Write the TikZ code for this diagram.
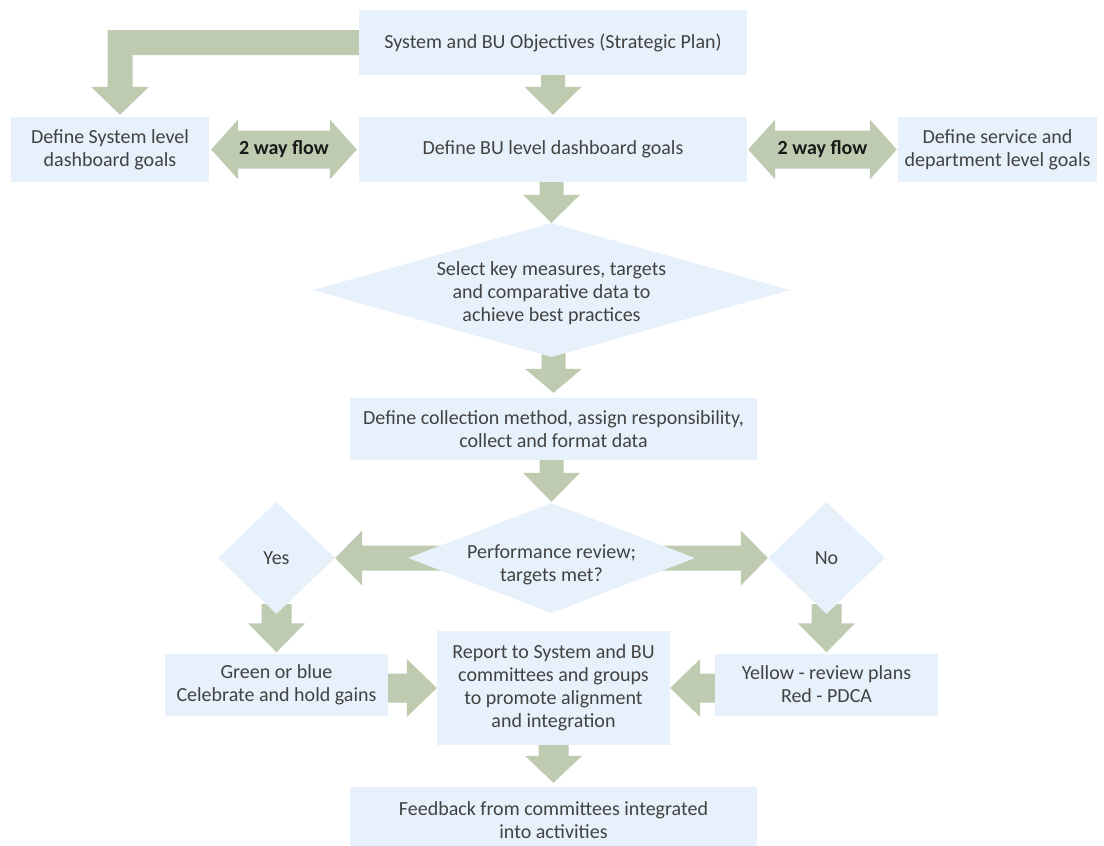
\documentclass[tikz,border=0pt]{standalone}
\usepackage{fontspec}
\setmainfont{Carlito}
\usetikzlibrary{calc,shapes.geometric}
\pgfdeclarelayer{back}
\pgfdeclarelayer{bg}
\pgfsetlayers{back,bg,main}
\definecolor{boxfill}{RGB}{231,241,251}
\definecolor{arrfill}{RGB}{191,203,177}
\definecolor{txt}{RGB}{66,66,66}
\definecolor{txtdark}{RGB}{25,25,25}
% down arrow: #1 start, #2 tip, #3 shaft half, #4 head half, #5 head length
\newcommand\arrD[5]{\begin{pgfonlayer}{bg}\fill[arrfill] let \p1=(#1),\p2=(#2) in
  (\x2-#3,\y1) -- (\x2+#3,\y1) -- (\x2+#3,\y2+#5) -- (\x2+#4,\y2+#5) -- (\x2,\y2)
  -- (\x2-#4,\y2+#5) -- (\x2-#3,\y2+#5) -- cycle;\end{pgfonlayer}}
% right arrow
\newcommand\arrR[5]{\begin{pgfonlayer}{bg}\fill[arrfill] let \p1=(#1),\p2=(#2) in
  (\x1,\y2+#3) -- (\x2-#5,\y2+#3) -- (\x2-#5,\y2+#4) -- (\x2,\y2) -- (\x2-#5,\y2-#4)
  -- (\x2-#5,\y2-#3) -- (\x1,\y2-#3) -- cycle;\end{pgfonlayer}}
% left arrow
\newcommand\arrL[5]{\begin{pgfonlayer}{bg}\fill[arrfill] let \p1=(#1),\p2=(#2) in
  (\x1,\y2+#3) -- (\x2+#5,\y2+#3) -- (\x2+#5,\y2+#4) -- (\x2,\y2) -- (\x2+#5,\y2-#4)
  -- (\x2+#5,\y2-#3) -- (\x1,\y2-#3) -- cycle;\end{pgfonlayer}}
% double-headed horizontal arrow: #1 left tip, #2 right tip
\newcommand\arrLR[5]{\begin{pgfonlayer}{bg}\fill[arrfill] let \p1=(#1),\p2=(#2) in
  (\x1,\y1) -- (\x1+#5,\y1+#4) -- (\x1+#5,\y1+#3) -- (\x2-#5,\y1+#3) -- (\x2-#5,\y1+#4)
  -- (\x2,\y1) -- (\x2-#5,\y1-#4) -- (\x2-#5,\y1-#3) -- (\x1+#5,\y1-#3) -- (\x1+#5,\y1-#4)
  -- cycle;\end{pgfonlayer}}
\tikzset{
  box/.style={rectangle, fill=boxfill, draw=none, text=txt, align=center, inner sep=0pt,
    font=\fontsize{20}{23}\selectfont},
  dia/.style={diamond, fill=boxfill, draw=none, inner sep=0pt},
  dtext/.style={text=txt, align=center, inner sep=0pt, font=\fontsize{20}{23}\selectfont},
  flowlbl/.style={text=txtdark, inner sep=0pt, font=\fontsize{20}{23}\selectfont\bfseries}
}
\begin{document}
\begin{tikzpicture}[x=1pt,y=-1pt]
\useasboundingbox (0,0) rectangle (1104,846);
\begin{pgfonlayer}{back}
\fill[white] (0,0) rectangle (1104,846);
\end{pgfonlayer}
% nodes
\node[box, minimum width=388, minimum height=65] (top) at (553,42.5) {System and BU Objectives (Strategic Plan)};
\node[box, minimum width=388, minimum height=65] (bu) at (553,149.5) {Define BU level dashboard goals};
\node[box, minimum width=198, minimum height=65] (sys) at (110,149.5) {Define System level\\dashboard goals};
\node[box, minimum width=199, minimum height=65] (svc) at (997.5,149.5) {Define service and\\department level goals};
\node[dia, minimum width=477, minimum height=134] (sel) at (551.5,290) {};
\node[dtext] (selt) at ($(sel.center)+(0,3)$) {Select key measures, targets\\and comparative data to\\achieve best practices};
\node[box, minimum width=407, minimum height=62] (coll) at (553.5,429) {Define collection method, assign responsibility,\\collect and format data};
\node[dia, minimum width=287, minimum height=110] (perf) at (551.5,558) {};
\node[dtext] (perft) at ($(perf.center)+(0,7)$) {Performance review;\\targets met?};
\node[dia, minimum width=117, minimum height=112] (yes) at (276.5,558) {};
\node[dtext] (yest) at (yes.center) {Yes};
\node[dia, minimum width=117, minimum height=112] (no) at (826.5,558) {};
\node[dtext] (not) at (no.center) {No};
\node[box, minimum width=223, minimum height=62] (green) at (276.5,684.5) {Green or blue\\Celebrate and hold gains};
\node[box, minimum width=223, minimum height=62] (yellow) at (826.5,684.5) {Yellow - review plans\\Red - PDCA};
\node[box, minimum width=233, minimum height=114] (report) at (553.5,688) {Report to System and BU\\committees and groups\\to promote alignment\\and integration};
\node[box, minimum width=407, minimum height=66] (feed) at (553.5,820) {Feedback from committees integrated\\into activities};
% connectors
\arrD{top.south}{$(bu.north)+(0,-2)$}{12pt}{28.5pt}{28pt}
\arrD{bu.south}{sel.north}{12pt}{28.5pt}{28pt}
\arrD{$(sel.south)+(0,-10)$}{$(coll.north)+(0,-5)$}{12pt}{28.5pt}{24pt}
\arrD{coll.south}{$(perf.north)+(0,-1)$}{12pt}{28.5pt}{29pt}
\arrL{perf.center}{yes.east}{12.5pt}{27.5pt}{27pt}
\arrR{perf.center}{no.west}{12.5pt}{27.5pt}{27pt}
\arrD{$(yes.south)+(0,-10)$}{$(green.north)+(0,-1)$}{15pt}{28.5pt}{29pt}
\arrD{$(no.south)+(0,-10)$}{$(yellow.north)+(0,-1)$}{15pt}{28.5pt}{29pt}
\arrR{green.east}{report.west}{14.5pt}{29pt}{30pt}
\arrL{yellow.west}{report.east}{14.5pt}{29pt}{30pt}
\arrD{report.south}{$(feed.north)+(0,-4)$}{15pt}{28.5pt}{27pt}
\arrLR{$(sys.east)+(2,0)$}{$(bu.west)+(-2,0)$}{19pt}{30pt}{27pt}
\arrLR{$(bu.east)+(1,0)$}{$(svc.west)+(-1,0)$}{19pt}{30pt}{27pt}
\begin{pgfonlayer}{bg}
\fill[arrfill] let \p1=(top.west), \p2=($(sys.north)+(10,-2)$) in
  (\x1,\y1+12.5pt) -- (\x2-12.5pt,\y1+12.5pt) -- (\x2-12.5pt,\y2+28pt) -- (\x2-29pt,\y2+28pt)
  -- (\x2,\y2) -- (\x2+29pt,\y2+28pt) -- (\x2+12.5pt,\y2+28pt) -- (\x2+12.5pt,\y1-12.5pt)
  -- (\x1,\y1-12.5pt) -- cycle;
\end{pgfonlayer}
\node[flowlbl] (f1) at ($(sys.east)!0.5!(bu.west)$) {2 way flow};
\node[flowlbl] (f2) at ($(bu.east)!0.5!(svc.west)$) {2 way flow};
\end{tikzpicture}
\end{document}
